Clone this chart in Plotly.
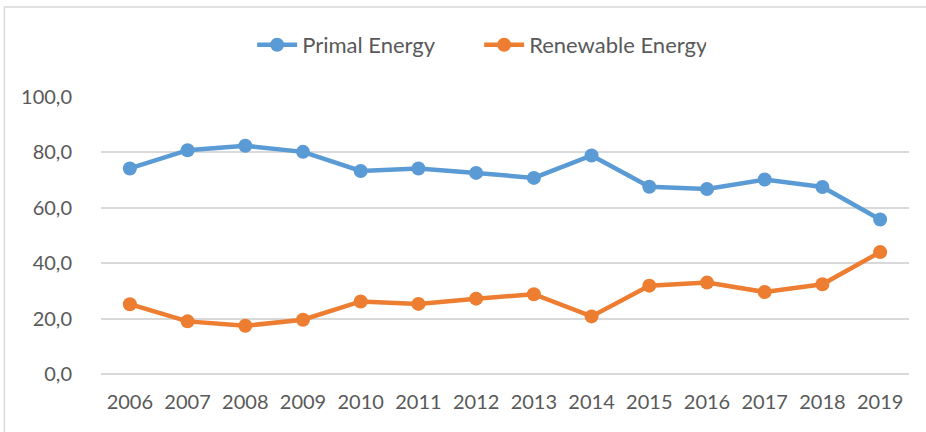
import plotly.graph_objects as go

years = ["2006", "2007", "2008", "2009", "2010", "2011", "2012",
         "2013", "2014", "2015", "2016", "2017", "2018", "2019"]
primal = [74.2, 80.8, 82.4, 80.2, 73.3, 74.2, 72.6, 70.8, 78.9, 67.6, 66.8, 70.2, 67.5, 55.8]
renewable = [25.2, 19.0, 17.4, 19.6, 26.2, 25.3, 27.2, 28.8, 20.8, 31.9, 33.0, 29.6, 32.4, 44.0]
y_ticks = [0, 20, 40, 60, 80, 100]

FONT = "Lato"
GRAY = "#595959"

fig = go.Figure()
fig.add_trace(go.Scatter(x=years, y=primal, name="Primal Energy", mode="lines+markers",
                         line=dict(color="#5B9BD5", width=4.5),
                         marker=dict(color="#5B9BD5", size=14)))
fig.add_trace(go.Scatter(x=years, y=renewable, name="Renewable Energy", mode="lines+markers",
                         line=dict(color="#ED7D31", width=4.5),
                         marker=dict(color="#ED7D31", size=14)))

fig.update_layout(
    width=926, height=432,
    margin=dict(l=101, r=17, t=97, b=58, autoexpand=False),
    paper_bgcolor="white", plot_bgcolor="white",
    separators=", ",
    font=dict(family=FONT, size=20, color=GRAY),
    legend=dict(orientation="h", x=0.468, xanchor="center", y=1.188, yanchor="middle",
                font=dict(family=FONT, size=22, color=GRAY), itemwidth=40,
                entrywidth=172, entrywidthmode="pixels",
                traceorder="normal"),
    xaxis=dict(type="category", range=[-0.5, len(years) - 0.5],
               showgrid=False, showline=False, zeroline=False,
               ticks="", tickfont=dict(family=FONT, size=20, color=GRAY),
               ticklabelstandoff=14),
    yaxis=dict(range=[0, 100], tickvals=y_ticks, tickformat=".1f",
               showgrid=True, gridcolor="#d9d9d9", gridwidth=1.5,
               zeroline=True, zerolinecolor="#d9d9d9", zerolinewidth=1.5,
               showline=False, ticks="", ticklabelstandoff=28,
               tickfont=dict(family=FONT, size=20, color=GRAY)),
    shapes=[dict(type="rect", xref="paper", yref="paper",
                 x0=-0.1196, x1=1.05, y0=-0.3, y1=1.325,
                 line=dict(color="#d9d9d9", width=1.5), layer="below")],
)

fig.write_html("out.html", config={"displayModeBar": False},
               post_script="document.body.style.margin='0';document.body.style.overflow='hidden';")
